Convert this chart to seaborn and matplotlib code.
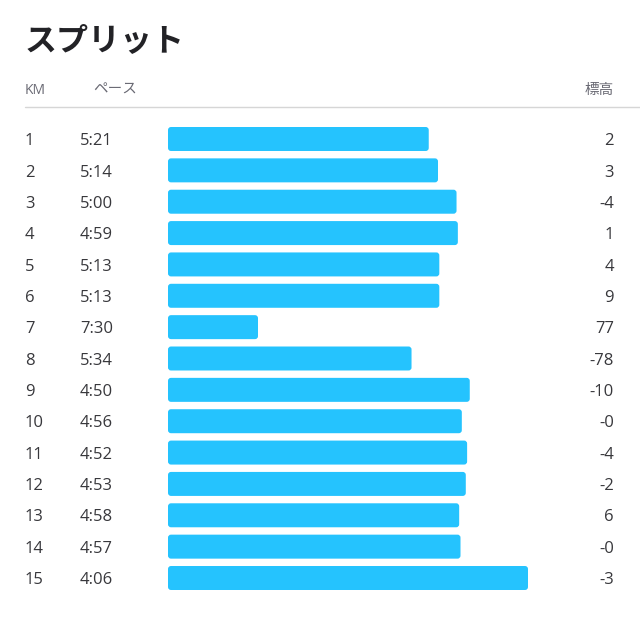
import numpy as np
import pandas as pd
import seaborn as sns
import matplotlib.pyplot as plt
from matplotlib.patches import FancyBboxPatch
from matplotlib.lines import Line2D
from matplotlib.transforms import blended_transform_factory

# データ
km = [str(k) for k in range(1, 16)]
pace = ['5:21', '5:14', '5:00', '4:59', '5:13', '5:13', '7:30', '5:34',
        '4:50', '4:56', '4:52', '4:53', '4:58', '4:57', '4:06']
elev = ['2', '3', '-4', '1', '4', '9', '77', '-78',
        '-10', '-0', '-4', '-2', '6', '-0', '-3']

pace_sec = [int(p.split(':')[0]) * 60 + int(p.split(':')[1]) for p in pace]
BASE = 518  # バーの長さ = BASE - ペース(秒)
df = pd.DataFrame({'km': km, 'bar': [BASE - s for s in pace_sec]})

sns.set_theme(style='white')
plt.rcParams['font.family'] = ['Noto Sans CJK JP', 'DejaVu Sans']
num_font = ['Open Sans', 'Noto Sans CJK JP', 'DejaVu Sans']

W, H = 640, 618
fig = plt.figure(figsize=(W / 100, H / 100), dpi=100)
fig.patch.set_facecolor('white')

row = 31.36
top = 139 - row / 2
bot = 578 + row / 2
ax = fig.add_axes([168 / W, 1 - bot / H, 360 / W, (bot - top) / H])
sns.barplot(data=df, x='bar', y='km', color='#25c3fe', width=0.765,
            saturation=1, orient='h', ax=ax)
ax.set_xlim(0, 272)
ax.set_ylim(14.5, -0.5)
ax.axis('off')

# 角を丸める
xu = 272 / 360
yu = 1 / row
for p in list(ax.patches):
    x, y, w, h = p.get_x(), p.get_y(), p.get_width(), p.get_height()
    fc = p.get_facecolor()
    p.remove()
    ax.add_patch(FancyBboxPatch((x, y), w, h,
                                boxstyle=f'round,pad=0,rounding_size={3 * xu}',
                                mutation_aspect=yu / xu, fc=fc, ec='none'))


def fx(px):
    return px / W


def fy(py):
    return 1 - py / H


# タイトルとヘッダー
fig.text(fx(25), fy(41), 'スプリット', fontsize=23, fontweight='bold',
         color='#222226', va='center', ha='left')
hdr = dict(fontsize=10.5, color='#6a6a74', va='center')
fig.text(fx(25), fy(90), 'KM', ha='left', family=num_font, fontsize=10,
         color='#6a6a74', va='center')
fig.text(fx(93), fy(90), 'ペース', ha='left', **hdr)
fig.text(fx(614), fy(90), '標高', ha='right', **hdr)
fig.add_artist(Line2D([fx(25), fx(640)], [fy(107), fy(107)],
                      transform=fig.transFigure, color='#d6d6d6', lw=1))

# 各行のテキスト
tr = blended_transform_factory(fig.transFigure, ax.transData)
txt = dict(fontsize=12, color='#38383c', va='center', transform=tr,
           family=num_font)
for i in range(len(km)):
    ax.text(fx(25), i + 0.07, km[i], ha='left', **txt)
    ax.text(fx(80), i + 0.07, pace[i], ha='left', **txt)
    ax.text(fx(614), i + 0.07, elev[i], ha='right', **txt)

fig.savefig('out.png', dpi=100)
